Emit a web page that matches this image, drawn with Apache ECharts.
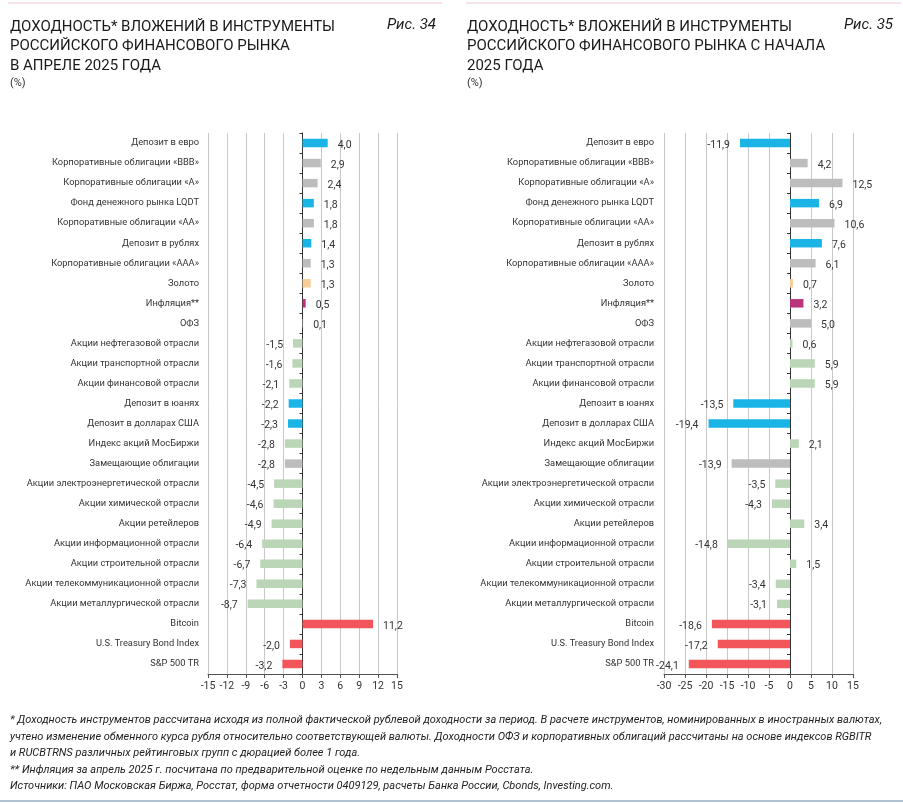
<!DOCTYPE html>
<html>
<head>
<meta charset="utf-8">
<script src="https://cdn.jsdelivr.net/npm/echarts@6/dist/echarts.min.js"></script>
<style>
html,body{margin:0;padding:0;background:#fff;}
#chart{width:903px;height:804px;}
</style>
</head>
<body>
<div id="chart"></div>
<script>
const categories = [
  'Депозит в евро',
  'Корпоративные облигации «BBB»',
  'Корпоративные облигации «A»',
  'Фонд денежного рынка LQDT',
  'Корпоративные облигации «AA»',
  'Депозит в рублях',
  'Корпоративные облигации «AAA»',
  'Золото',
  'Инфляция**',
  'ОФЗ',
  'Акции нефтегазовой отрасли',
  'Акции транспортной отрасли',
  'Акции финансовой отрасли',
  'Депозит в юанях',
  'Депозит в долларах США',
  'Индекс акций МосБиржи',
  'Замещающие облигации',
  'Акции электроэнергетической отрасли',
  'Акции химической отрасли',
  'Акции ретейлеров',
  'Акции информационной отрасли',
  'Акции строительной отрасли',
  'Акции телекоммуникационной отрасли',
  'Акции металлургической отрасли',
  'Bitcoin',
  'U.S. Treasury Bond Index',
  'S&P 500 TR'
];
const valuesApril = [4.0, 2.9, 2.4, 1.8, 1.8, 1.4, 1.3, 1.3, 0.5, 0.1, -1.5, -1.6, -2.1, -2.2, -2.3, -2.8, -2.8, -4.5, -4.6, -4.9, -6.4, -6.7, -7.3, -8.7, 11.2, -2.0, -3.2];
const valuesYTD = [-11.9, 4.2, 12.5, 6.9, 10.6, 7.6, 6.1, 0.7, 3.2, 5.0, 0.6, 5.9, 5.9, -13.5, -19.4, 2.1, -13.9, -3.5, -4.3, 3.4, -14.8, 1.5, -3.4, -3.1, -18.6, -17.2, -24.1];
const groups = ['blue','gray','gray','blue','gray','blue','gray','gold','infl','gray','green','green','green','blue','blue','green','gray','green','green','green','green','green','green','green','red','red','red'];
const palette = {blue:'#1BB4E6', gray:'#BDBDBD', gold:'#F7CE98', infl:'#B8357A', green:'#BBD5B7', red:'#F2565A'};

const titleLeft = 'ДОХОДНОСТЬ* ВЛОЖЕНИЙ В ИНСТРУМЕНТЫ\nРОССИЙСКОГО ФИНАНСОВОГО РЫНКА\nВ АПРЕЛЕ 2025 ГОДА';
const titleRight = 'ДОХОДНОСТЬ* ВЛОЖЕНИЙ В ИНСТРУМЕНТЫ\nРОССИЙСКОГО ФИНАНСОВОГО РЫНКА С НАЧАЛА\n2025 ГОДА';
const footnote = [
  '* Доходность инструментов рассчитана исходя из полной фактической рублевой доходности за период. В расчете инструментов, номинированных в иностранных валютах,',
  'учтено изменение обменного курса рубля относительно соответствующей валюты. Доходности ОФЗ и корпоративных облигаций рассчитаны на основе индексов RGBITR',
  'и RUCBTRNS различных рейтинговых групп с дюрацией более 1 года.',
  '** Инфляция за апрель 2025 г. посчитана по предварительной оценке по недельным данным Росстата.',
  'Источники: ПАО Московская Биржа, Росстат, форма отчетности 0409129, расчеты Банка России, Cbonds, Investing.com.'
];

const FONT = 'Roboto, "Noto Sans", sans-serif';
const fmt = v => v.toFixed(1).replace('.', ',');

function seriesData(vals) {
  return vals.map((v, i) => ({
    value: v,
    itemStyle: {color: palette[groups[i]]},
    label: {position: v >= 0 ? 'right' : 'left'}
  }));
}

function makeSeries(vals, idx) {
  return {
    type: 'bar',
    xAxisIndex: idx,
    yAxisIndex: idx * 2,
    data: seriesData(vals),
    barWidth: 8.5,
    label: {
      show: true,
      distance: 10,
      offset: [0, 2],
      formatter: p => fmt(p.value),
      fontFamily: FONT,
      fontSize: 10.5,
      color: '#333'
    },
    silent: true,
    animation: false
  };
}

function xAxisCfg(idx, min, max, interval) {
  return {
    type: 'value', gridIndex: idx, min: min, max: max, interval: interval,
    axisLine: {show: true, onZero: false, lineStyle: {color: '#555', width: 1}},
    axisTick: {show: true, length: 4, lineStyle: {color: '#555'}},
    axisLabel: {fontFamily: FONT, fontSize: 10.5, color: '#333', margin: 7},
    splitLine: {show: true, lineStyle: {color: '#C8C8C8', width: 1}}
  };
}

function yAxesCfg(idx, margin) {
  return [{
    type: 'category', gridIndex: idx, data: categories, inverse: true,
    axisLine: {show: false, onZero: false},
    axisTick: {show: false},
    axisLabel: {fontFamily: FONT, fontSize: 9.3, color: '#333', margin: margin},
    splitLine: {show: false}
  }, {
    type: 'category', gridIndex: idx, data: categories, inverse: true, position: 'left',
    axisLine: {show: true, onZero: true, lineStyle: {color: '#333', width: 1}},
    axisTick: {show: true, length: 3, lineStyle: {color: '#333'}},
    axisLabel: {show: false},
    splitLine: {show: false}
  }];
}

const chart = echarts.init(document.getElementById('chart'), null, {renderer: 'canvas'});
chart.setOption({
  backgroundColor: '#fff',
  animation: false,
  grid: [
    {left: 208, top: 133, width: 189, height: 541},
    {left: 664, top: 133, width: 189, height: 541}
  ],
  xAxis: [xAxisCfg(0, -15, 15, 3), xAxisCfg(1, -30, 15, 5)],
  yAxis: yAxesCfg(0, 9).concat(yAxesCfg(1, 10)),
  series: [makeSeries(valuesApril, 0), makeSeries(valuesYTD, 1)],
  graphic: [
    {type: 'line', shape: {x1: 8, y1: 3, x2: 442, y2: 3}, style: {stroke: '#F2C9CF', lineWidth: 1}},
    {type: 'line', shape: {x1: 466, y1: 3, x2: 901, y2: 3}, style: {stroke: '#F2C9CF', lineWidth: 1}},
    {type: 'text', left: 10, top: 17, style: {text: titleLeft, font: '15px ' + FONT, fill: '#1a1a1a', lineHeight: 19.5}},
    {type: 'text', left: 467, top: 17, style: {text: titleRight, font: '15px ' + FONT, fill: '#1a1a1a', lineHeight: 19.5}},
    {type: 'text', left: 10, top: 78, style: {text: '(%)', font: '11px ' + FONT, fill: '#333'}},
    {type: 'text', left: 467, top: 78, style: {text: '(%)', font: '11px ' + FONT, fill: '#333'}},
    {type: 'text', right: 467, top: 18, style: {text: 'Рис. 34', font: 'italic 15px ' + FONT, fill: '#1a1a1a', textAlign: 'right'}},
    {type: 'text', right: 10, top: 18, style: {text: 'Рис. 35', font: 'italic 15px ' + FONT, fill: '#1a1a1a', textAlign: 'right'}},
    {type: 'text', left: 10, top: 712, style: {text: footnote.join('\n'), font: 'italic 11px ' + FONT, fill: '#222', lineHeight: 16.5}},
    {type: 'line', shape: {x1: 0, y1: 801, x2: 903, y2: 801}, style: {stroke: '#AFC2D4', lineWidth: 2}}
  ]
});
</script>
</body>
</html>
